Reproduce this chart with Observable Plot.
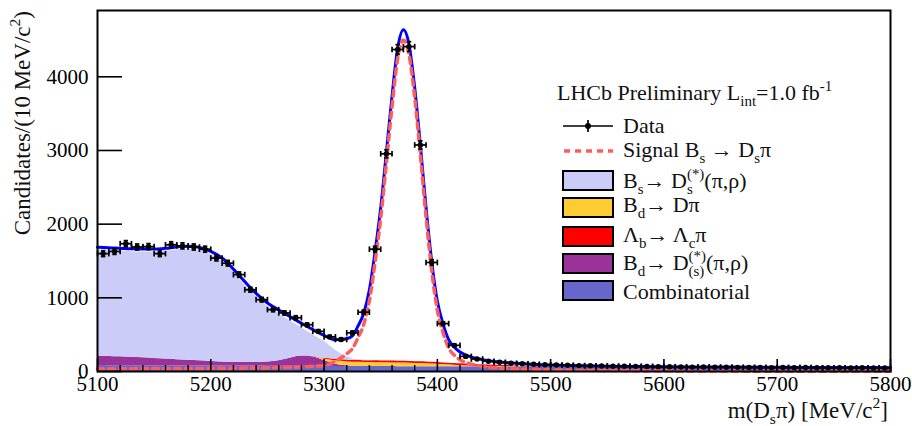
<!DOCTYPE html>
<html>
<head>
<meta charset="utf-8">
<script src="https://cdn.jsdelivr.net/npm/d3@7"></script>
<script src="https://cdn.jsdelivr.net/npm/@observablehq/plot@0.6"></script>
<style>
  html, body { margin: 0; padding: 0; background: #fff; }
  #chart { width: 912px; height: 426px; }
  #chart svg text { font-family: "Liberation Serif", "DejaVu Serif", serif !important; }
</style>
</head>
<body>
<div id="chart"></div>
<script>
// ---- Fit model, sampled on a mass grid (MeV/c^2), candidates per 10 MeV/c^2 ----
const fitMass = [
  5100, 5110, 5120, 5130, 5140, 5150, 5160, 5170, 5180, 5190,
  5200, 5210, 5220, 5230, 5240, 5250, 5260, 5270, 5280, 5290,
  5300, 5310, 5320, 5325, 5330, 5335, 5340, 5345, 5350, 5355,
  5360, 5365, 5370, 5375, 5380, 5385, 5390, 5395, 5400, 5405,
  5410, 5415, 5420, 5430, 5440, 5450, 5460, 5470, 5480, 5490,
  5500, 5550, 5600, 5650, 5700, 5750, 5800
];
const combinatorial = [
  80, 79, 79, 78, 78, 77, 77, 76, 76, 75,
  75, 74, 74, 73, 73, 72, 72, 71, 71, 70,
  70, 69, 69, 68, 68, 68, 68, 67, 67, 67,
  67, 66, 66, 66, 66, 65, 65, 65, 65, 64,
  64, 64, 64, 63, 63, 62, 62, 61, 61, 60,
  60, 58, 56, 55, 53, 52, 50
];
const bdDsPiRho = [
  130, 125, 120, 114, 108, 100, 92, 85, 78, 70,
  62, 55, 50, 48, 50, 56, 75, 110, 140, 130,
  80, 30, 8, 3, 1, 0, 0, 0, 0, 0,
  0, 0, 0, 0, 0, 0, 0, 0, 0, 0,
  0, 0, 0, 0, 0, 0, 0, 0, 0, 0,
  0, 0, 0, 0, 0, 0, 0
];
const bdDPi = [
  0, 0, 0, 0, 0, 0, 0, 0, 0, 0,
  0, 0, 0, 0, 0, 0, 0, 0, 0, 3,
  20, 48, 55, 55, 55, 54, 54, 53, 52, 51,
  50, 49, 48, 46, 44, 42, 40, 37, 34, 30,
  26, 22, 18, 12, 8, 5, 3, 2, 1, 0,
  0, 0, 0, 0, 0, 0, 0
];
const lbLcPi = [
  0, 0, 0, 0, 0, 0, 0, 0, 0, 0,
  0, 0, 0, 0, 0, 0, 0, 0, 0, 2,
  10, 20, 24, 25, 25, 25, 25, 25, 25, 25,
  25, 25, 24, 24, 24, 24, 24, 23, 23, 23,
  23, 22, 22, 21, 20, 18, 16, 13, 10, 7,
  4, 0, 0, 0, 0, 0, 0
];
const bsDsStar = [
  1437, 1438, 1434, 1434, 1436, 1445, 1462, 1488, 1504, 1498,
  1450, 1367, 1221, 1053, 890, 753, 636, 508, 382, 295,
  230, 123, 49, 22, 10, 4, 1, 0, 0, 0,
  0, 0, 0, 0, 0, 0, 0, 0, 0, 0,
  0, 0, 0, 0, 0, 0, 0, 0, 0, 0,
  0, 0, 0, 0, 0, 0, 0
];
const signal = [
  38, 38, 39, 39, 40, 40, 41, 41, 42, 42,
  43, 44, 45, 46, 47, 49, 52, 56, 62, 70,
  80, 140, 240, 310, 460, 640, 960, 1480, 2080, 2830,
  3600, 4250, 4500, 4300, 3720, 2940, 2100, 1370, 830, 530,
  320, 220, 160, 100, 70, 52, 42, 35, 30, 26,
  23, 14, 9, 6, 4, 3, 2
];

// ---- Data: bin centres and candidates per 10 MeV/c^2 bin ----
const binCentres = [
  5105, 5115, 5125, 5135, 5145, 5155, 5165, 5175, 5185, 5195,
  5205, 5215, 5225, 5235, 5245, 5255, 5265, 5275, 5285, 5295,
  5305, 5315, 5325, 5335, 5345, 5355, 5365, 5375, 5385, 5395,
  5405, 5415, 5425, 5435, 5445, 5455, 5465, 5475, 5485, 5495,
  5505, 5515, 5525, 5535, 5545, 5555, 5565, 5575, 5585, 5595,
  5605, 5615, 5625, 5635, 5645, 5655, 5665, 5675, 5685, 5695,
  5705, 5715, 5725, 5735, 5745, 5755, 5765, 5775, 5785, 5795
];
const candidates = [
  1600, 1630, 1735, 1690, 1695, 1600, 1720, 1705, 1690, 1660,
  1540, 1470, 1315, 1110, 975, 840, 795, 730, 635, 545,
  470, 435, 525, 805, 1660, 2955, 4370, 4410, 3075, 1480,
  650, 355, 205, 170, 140, 125, 112, 105, 98, 92,
  88, 84, 80, 78, 75, 72, 72, 70, 68, 66,
  65, 62, 60, 62, 58, 58, 56, 55, 54, 52,
  55, 52, 54, 51, 50, 51, 49, 50, 48, 49
];

// ---- Axis ticks ----
const xMajorTicks = [5100, 5200, 5300, 5400, 5500, 5600, 5700, 5800];
const xMinorTicks = [5120, 5140, 5160, 5180, 5220, 5240, 5260, 5280, 5320, 5340, 5360, 5380,
  5420, 5440, 5460, 5480, 5520, 5540, 5560, 5580, 5620, 5640, 5660, 5680, 5720, 5740, 5760, 5780];
const yMajorTicks = [0, 1000, 2000, 3000, 4000];

// ---- Components, stacked bottom to top ----
const componentKeys = ["comb", "bdDs", "bdD", "lb", "bs"];
const componentValues = [combinatorial, bdDsPiRho, bdDPi, lbLcPi, bsDsStar];
const componentColors = ["#6666cc", "#993399", "#ffcc33", "#ff0000", "#ccccf8"];

const SERIF = "Liberation Serif, DejaVu Serif, serif";
const W = 912, H = 426;
const M = {top: 10, right: 22, bottom: 55, left: 97};
const frameW = W - M.left - M.right;
const frameH = H - M.top - M.bottom;

const stackRows = componentKeys.flatMap((k, c) =>
  fitMass.map((m, i) => ({mass: m, n: componentValues[c][i], comp: k})));
const fitRows = fitMass.map((m, i) => ({
  mass: m,
  total: componentValues.reduce((s, arr) => s + arr[i], 0) + signal[i],
  sig: signal[i]
}));
const dataRows = binCentres.map((m, i) => ({mass: m, n: candidates[i], err: Math.sqrt(candidates[i])}));

// line-shaped symbols for the error-bar end caps
const vCap = {draw(ctx, size) { const r = Math.sqrt(size / Math.PI); ctx.moveTo(0, -r); ctx.lineTo(0, r); }};
const hCap = {draw(ctx, size) { const r = Math.sqrt(size / Math.PI); ctx.moveTo(-r, 0); ctx.lineTo(r, 0); }};

const chart = Plot.plot({
  width: W, height: H,
  marginTop: M.top, marginRight: M.right, marginBottom: M.bottom, marginLeft: M.left,
  style: {fontFamily: SERIF, fontSize: "21px", background: "#fff", color: "#000"},
  x: {domain: [5100, 5800]},
  y: {domain: [0, 4900]},
  color: {domain: componentKeys, range: componentColors},
  marks: [
    Plot.areaY(stackRows, {x: "mass", y: "n", z: "comp", fill: "comp", order: componentKeys, curve: "monotone-x"}),
    Plot.line(fitRows, {x: "mass", y: "total", stroke: "#0000ff", strokeWidth: 3, curve: "monotone-x"}),
    Plot.line(fitRows, {x: "mass", y: "sig", stroke: "#ff5c5c", strokeWidth: 3.5, strokeDasharray: "6,5", curve: "monotone-x"}),
    // data with statistical errors and bin-width bars
    Plot.link(dataRows, {x1: d => d.mass - 5, x2: d => d.mass + 5, y1: "n", y2: "n", stroke: "#000", strokeWidth: 1.7}),
    Plot.link(dataRows, {x1: "mass", x2: "mass", y1: d => d.n - d.err, y2: d => d.n + d.err, stroke: "#000", strokeWidth: 1.7}),
    Plot.dot(dataRows, {x: d => d.mass - 5, y: "n", symbol: vCap, r: 2.8, stroke: "#000", strokeWidth: 1.7}),
    Plot.dot(dataRows, {x: d => d.mass + 5, y: "n", symbol: vCap, r: 2.8, stroke: "#000", strokeWidth: 1.7}),
    Plot.dot(dataRows, {x: "mass", y: d => d.n + d.err, symbol: hCap, r: 2.2, stroke: "#000", strokeWidth: 1.7}),
    Plot.dot(dataRows, {x: "mass", y: d => d.n - d.err, symbol: hCap, r: 2.2, stroke: "#000", strokeWidth: 1.7}),
    Plot.dot(dataRows, {x: "mass", y: "n", r: 2.7, fill: "#000"}),
    // inward ticks
    Plot.tickX(xMajorTicks, {x: d => d, stroke: "#000", strokeWidth: 1.6, insetTop: frameH - 12}),
    Plot.tickX(xMinorTicks, {x: d => d, stroke: "#000", strokeWidth: 1.4, insetTop: frameH - 6}),
    Plot.tickY(yMajorTicks, {y: d => d, stroke: "#000", strokeWidth: 1.6, insetRight: frameW - 25}),
    Plot.axisX({ticks: xMajorTicks, tickSize: 0, tickPadding: 5, tickFormat: d => `${d}`, label: null,
      fontSize: 21, fontFamily: SERIF}),
    Plot.axisY({ticks: yMajorTicks, tickSize: 0, tickPadding: 9, tickFormat: d => `${d}`, label: null,
      fontSize: 21, fontFamily: SERIF}),
    Plot.frame({stroke: "#000", strokeWidth: 2})
  ]
});
document.getElementById("chart").appendChild(chart);

// ---- Rich text (sub/superscripts) ----
const svg = d3.select(chart);
const ink = "#111";
function richText(parent, parts, size, scriptScale = 0.68) {
  const g = parent.append("g")
    .attr("font-family", SERIF)
    .attr("text-anchor", "start")
    .style("text-anchor", "start")
    .attr("fill", ink);
  let cx = 0;
  const add = (x, y, s, str) => g.append("text")
    .attr("x", x).attr("y", y).attr("font-size", s)
    .style("text-anchor", "start")
    .text(str);
  for (const p of parts) {
    if (p.t != null) {
      cx += add(cx, 0, size, p.t).node().getComputedTextLength();
    } else {
      const s = size * scriptScale;
      let w = 0;
      if (p.sub != null) w = Math.max(w, add(cx, size * 0.27, s, p.sub).node().getComputedTextLength());
      if (p.sup != null) w = Math.max(w, add(cx, -size * 0.42, s, p.sup).node().getComputedTextLength());
      cx += w;
    }
  }
  return {g, width: cx};
}

// axis titles
const xt = richText(svg, [{t: "m(D"}, {sub: "s"}, {t: "π) [MeV/c"}, {sup: "2"}, {t: "]"}], 23);
xt.g.attr("transform", `translate(${W - M.right - xt.width - 2},418)`);
const yt = richText(svg, [{t: "Candidates/(10 MeV/c"}, {sup: "2"}, {t: ")"}], 23);
yt.g.attr("transform", `translate(30,${M.top + 1 + yt.width}) rotate(-90)`);

// legend
const legend = svg.append("g");
const lx = 563, tx = 623, fs = 22;
richText(legend, [{t: "LHCb Preliminary L"}, {sub: "int"}, {t: "=1.0 fb"}, {sup: "-1"}], fs)
  .g.attr("transform", "translate(557,100)");

legend.append("line").attr("x1", lx).attr("x2", lx + 50).attr("y1", 126).attr("y2", 126)
  .attr("stroke", "#000").attr("stroke-width", 1.7);
legend.append("line").attr("x1", lx + 25).attr("x2", lx + 25).attr("y1", 120).attr("y2", 132)
  .attr("stroke", "#000").attr("stroke-width", 1.7);
legend.append("circle").attr("cx", lx + 25).attr("cy", 126).attr("r", 3).attr("fill", "#000");
richText(legend, [{t: "Data"}], fs).g.attr("transform", `translate(${tx},133)`);

legend.append("line").attr("x1", lx + 1).attr("x2", lx + 50).attr("y1", 151).attr("y2", 151)
  .attr("stroke", "#ff5c5c").attr("stroke-width", 3.5).attr("stroke-dasharray", "6,5");
richText(legend, [{t: "Signal B"}, {sub: "s"}, {t: " → D"}, {sub: "s"}, {t: "π"}], fs)
  .g.attr("transform", `translate(${tx},157)`);

const boxes = [
  {y: 171, color: componentColors[4], parts: [{t: "B"}, {sub: "s"}, {t: "→ D"}, {sub: "s", sup: "(*)"}, {t: "(π,ρ)"}], base: 188},
  {y: 198, color: componentColors[2], parts: [{t: "B"}, {sub: "d"}, {t: "→ Dπ"}], base: 212},
  {y: 227, color: componentColors[3], parts: [{t: "Λ"}, {sub: "b"}, {t: "→ Λ"}, {sub: "c"}, {t: "π"}], base: 242},
  {y: 254, color: componentColors[1], parts: [{t: "B"}, {sub: "d"}, {t: "→ D"}, {sub: "(s)", sup: "(*)"}, {t: "(π,ρ)"}], base: 270},
  {y: 281, color: componentColors[0], parts: [{t: "Combinatorial"}], base: 299}
];
for (const b of boxes) {
  legend.append("rect").attr("x", lx).attr("y", b.y).attr("width", 50).attr("height", 19)
    .attr("fill", b.color).attr("stroke", "#000").attr("stroke-width", 2);
  richText(legend, b.parts, fs).g.attr("transform", `translate(${tx},${b.base})`);
}
</script>
</body>
</html>
